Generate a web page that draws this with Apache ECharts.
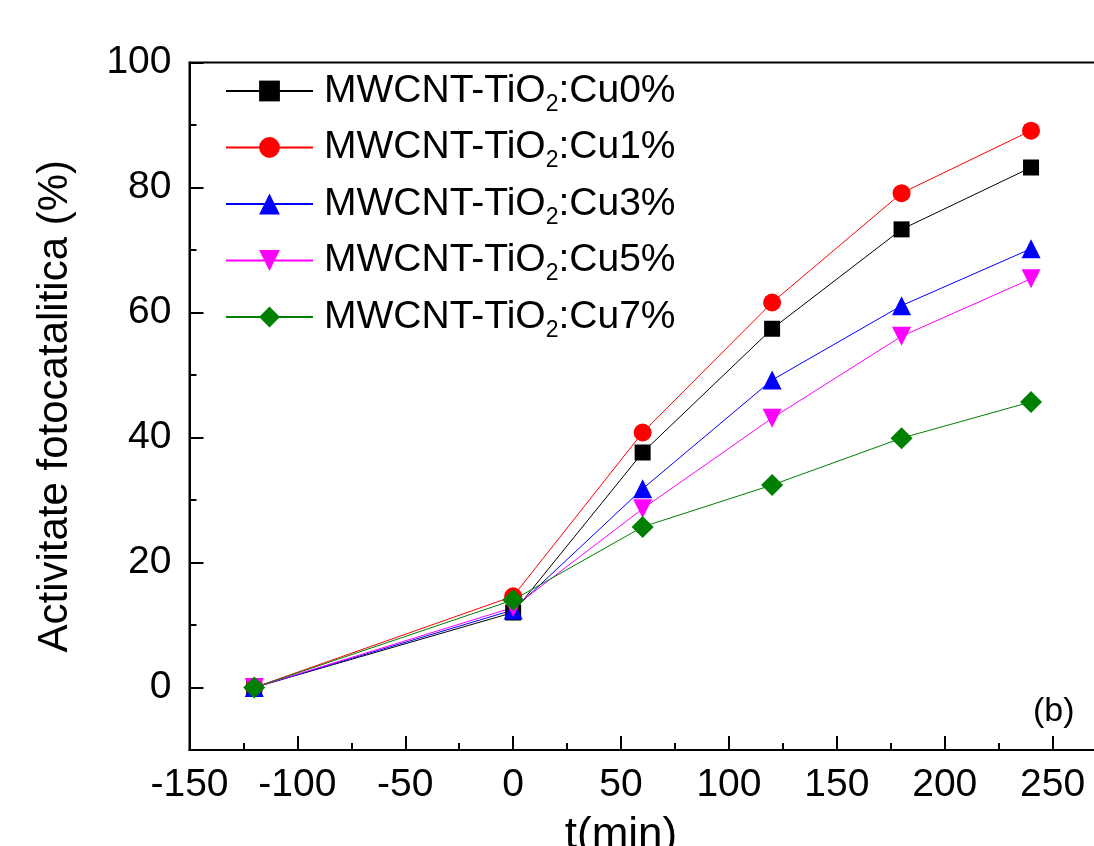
<!DOCTYPE html>
<html>
<head>
<meta charset="utf-8">
<script src="https://cdn.jsdelivr.net/npm/echarts@6/dist/echarts.min.js"></script>
<style>
  html, body { margin: 0; padding: 0; background: #fff; }
  #chart { width: 1094px; height: 846px; }
</style>
</head>
<body>
<div id="chart"></div>
<script>
const times = [-120, 0, 60, 120, 180, 240];
const seriesNames = ['MWCNT-TiO2:Cu0%', 'MWCNT-TiO2:Cu1%', 'MWCNT-TiO2:Cu3%', 'MWCNT-TiO2:Cu5%', 'MWCNT-TiO2:Cu7%'];
const cu0 = [0, 12.0, 37.6, 57.4, 73.3, 83.2];
const cu1 = [0, 14.6, 40.8, 61.6, 79.1, 89.1];
const cu3 = [0, 12.4, 31.8, 49.2, 61.1, 70.2];
const cu5 = [0, 12.8, 28.6, 43.1, 56.2, 65.4];
const cu7 = [0, 14.0, 25.7, 32.4, 39.9, 45.7];
const yTicks = [0, 20, 40, 60, 80, 100];
const yMinorTicks = [10, 30, 50, 70, 90];

const font = 'Liberation Sans, Arial, sans-serif';
const colors = ['#000000', '#ff0000', '#0000ff', '#ff00ff', '#008000'];
const symbols = ['rect', 'circle', 'triangle', 'triangle', 'diamond'];
const symbolSizes = [16, 18, 19, 19, 22];
const rotates = [0, 0, 0, 180, 0];
const values = [cu0, cu1, cu3, cu5, cu7];

const chart = echarts.init(document.getElementById('chart'), null, { renderer: 'canvas' });

const series = values.map((vals, i) => ({
  name: seriesNames[i],
  type: 'line',
  data: times.map((t, k) => [t, vals[k]]),
  symbol: symbols[i],
  symbolSize: symbolSizes[i],
  symbolRotate: rotates[i],
  showAllSymbol: true,
  lineStyle: { color: colors[i], width: 1 },
  itemStyle: { color: colors[i] },
  emphasis: { disabled: true },
  animation: false,
  clip: false
}));

const option = {
  backgroundColor: '#ffffff',
  animation: false,
  grid: {
    left: 189.5, top: 62.5, width: 971, height: 687.5,
    outerBoundsMode: 'none', containLabel: false,
    show: true, borderColor: '#000', borderWidth: 2, backgroundColor: 'transparent'
  },
  title: {
    text: '(b)', left: 1028, top: 690,
    textStyle: { fontFamily: font, fontSize: 34, fontWeight: 'normal', color: '#000' }
  },
  legend: {
    orient: 'vertical',
    left: 220, top: 61,
    itemWidth: 87, itemHeight: 26, itemGap: 6.5,
    data: seriesNames,
    formatter: (name) => name.replace('TiO2', 'TiO{sub|2}'),
    textStyle: {
      fontFamily: font, fontSize: 39, color: '#000', lineHeight: 50,
      padding: [0, 0, 0, 6],
      rich: {
        sub: { fontFamily: font, fontSize: 23, color: '#000', lineHeight: 2, verticalAlign: 'bottom' }
      }
    }
  },
  xAxis: {
    type: 'value', min: -150, max: 300, interval: 50,
    name: 't(min)', nameLocation: 'middle', nameGap: 64,
    nameTextStyle: { fontFamily: font, fontSize: 44, color: '#000', padding: [0, 108, 0, 0] },
    axisLine: { show: true, onZero: false, lineStyle: { color: '#000', width: 2 } },
    axisTick: { show: true, inside: true, length: 14, lineStyle: { color: '#000', width: 2 } },
    minorTick: { show: true, splitNumber: 2, length: 7, lineStyle: { color: '#000', width: 2 } },
    axisLabel: { fontFamily: font, fontSize: 39, color: '#000', margin: 16 },
    splitLine: { show: false }
  },
  yAxis: [
    {
      type: 'value', min: -10, max: 100,
      name: 'Activitate fotocatalitica (%)', nameLocation: 'middle', nameGap: 113,
      nameTextStyle: { fontFamily: font, fontSize: 42, color: '#000' },
      axisLine: { show: true, onZero: false, lineStyle: { color: '#000', width: 2 } },
      axisTick: { show: true, inside: true, length: 14, customValues: yTicks, lineStyle: { color: '#000', width: 2 } },
      axisLabel: { fontFamily: font, fontSize: 39, color: '#000', margin: 18, customValues: yTicks },
      splitLine: { show: false }
    },
    {
      type: 'value', min: -10, max: 100, position: 'left',
      axisLine: { show: false, onZero: false },
      axisTick: { show: true, inside: true, length: 7, customValues: yMinorTicks, lineStyle: { color: '#000', width: 2 } },
      axisLabel: { show: false },
      splitLine: { show: false }
    }
  ],
  series: series
};
chart.setOption(option);
</script>
</body>
</html>
